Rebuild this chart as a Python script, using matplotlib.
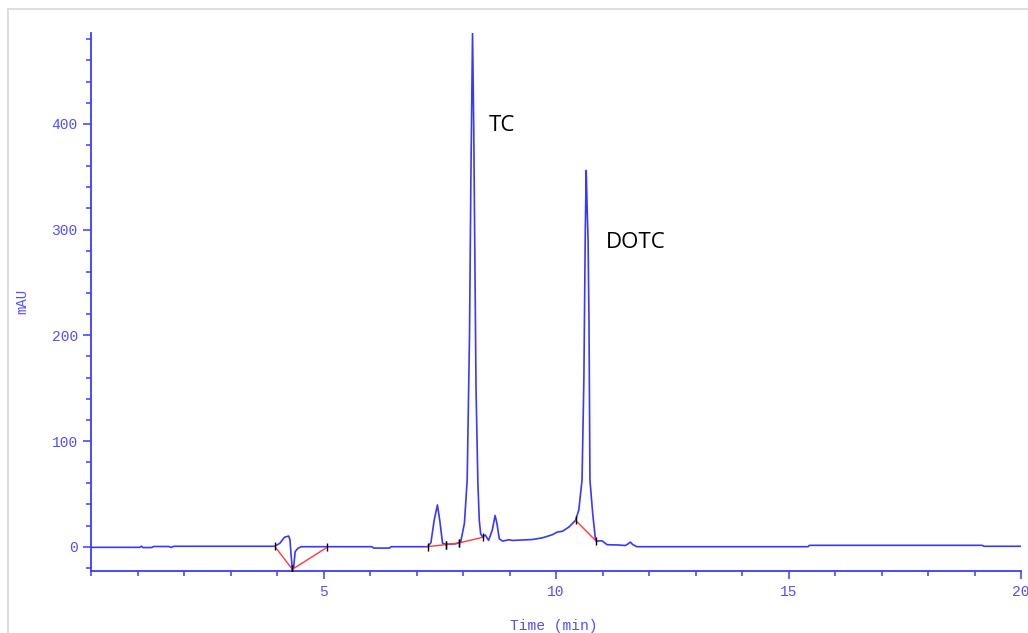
import matplotlib
matplotlib.use("Agg")
import matplotlib.pyplot as plt
from matplotlib.lines import Line2D
from matplotlib.ticker import MultipleLocator, FixedLocator

# Chromatogram trace: retention time (min) and detector response (mAU)
time_min = [0.00, 1.05, 1.08, 1.12, 1.30, 1.35, 1.68, 1.72, 1.78, 3.95,
            4.06, 4.16, 4.25, 4.28, 4.30, 4.33, 4.36, 4.39, 4.45, 4.52,
            6.04, 6.08, 6.42, 6.45, 7.24, 7.31, 7.38, 7.45, 7.50, 7.56,
            7.63, 7.85, 7.95, 8.03, 8.09, 8.14, 8.17, 8.205, 8.23, 8.25,
            8.28, 8.32, 8.35, 8.38, 8.42, 8.48, 8.55, 8.63, 8.69, 8.73,
            8.78, 8.85, 8.99, 9.06, 9.49, 9.71, 9.92, 10.03, 10.14, 10.28,
            10.42, 10.49, 10.56, 10.60, 10.63, 10.65, 10.67, 10.69, 10.71, 10.73,
            10.79, 10.85, 10.87, 10.92, 10.99, 11.10, 11.35, 11.49, 11.56, 11.60,
            11.65, 11.74, 15.42, 15.45, 19.17, 19.20, 20.00]
signal_mau = [-0.6, -0.6, 0.5, -0.8, -0.8, 0.2, 0.2, -0.8, 0.4, 0.4,
              3.2, 8.9, 10.1, 6.3, -6.3, -21.4, -18.9, -4.7, -1.5, 0.0,
              0.0, -1.3, -1.3, 0.0, 0.0, 3.8, 25.0, 39.5, 25.0, 3.2,
              2.2, 2.8, 4.5, 22.0, 63.0, 200.0, 350.0, 486.0, 400.0, 300.0,
              150.0, 60.0, 25.0, 12.0, 9.5, 11.0, 6.0, 15.8, 29.5, 22.0,
              7.6, 5.3, 6.6, 5.9, 6.8, 8.4, 11.3, 13.9, 14.6, 18.7,
              25.0, 34.7, 63.0, 160.0, 300.0, 356.0, 320.0, 290.0, 210.0, 63.0,
              31.0, 6.3, 5.0, 5.5, 5.6, 1.9, 1.6, 1.1, 3.0, 4.4,
              2.0, 0.0, 0.0, 1.3, 1.3, 0.4, 0.4]

# Integration baselines (start/end time and response of each segment)
base_t = [[3.95, 4.33], [4.33, 5.08], [7.24, 7.63], [7.63, 7.92], [7.92, 8.42], [10.42, 10.87]]
base_y = [[0.4, -21.4], [-21.4, -0.5], [0.0, 2.0], [2.0, 3.6], [3.6, 8.9], [25.0, 5.0]]

# Peak labels
peak_names = ["TC", "DOTC"]
peak_label_t = [8.55, 11.07]
peak_label_y = [393.0, 283.0]

x_major = [5, 10, 15, 20]
x_tick_labels = ["5", "10", "15", "20"]
y_major = [0, 100, 200, 300, 400]

AXIS_BLUE = "#3c3cff"
TEXT_BLUE = "#5050ff"
TRACE_BLUE = "#3838ff"

W, H = 1028, 633
fig = plt.figure(figsize=(W / 100, H / 100), dpi=100)
fig.patch.set_facecolor("white")

# light frame around the plot window
fig.add_artist(Line2D([8 / W, 1.0], [1 - 8.5 / H, 1 - 8.5 / H], color="#d8d8d8", lw=1.2))
fig.add_artist(Line2D([8 / W, 8 / W], [0.0, 1 - 8.5 / H], color="#d8d8d8", lw=1.2))

left, right, top, bottom = 91, 1021, 33, 570.7
ax = fig.add_axes([left / W, 1 - bottom / H, (right - left) / W, (bottom - top) / H])

ax.plot(time_min, signal_mau, color=TRACE_BLUE, lw=1.2, zorder=3)

for tt, yy in zip(base_t, base_y):
    ax.plot(tt, yy, color="#ff3a3a", lw=1.0, zorder=4)
    ax.plot(tt, yy, linestyle="none", marker="|", markersize=6,
            markeredgewidth=1.0, color="black", zorder=5)

for name, tx, ty in zip(peak_names, peak_label_t, peak_label_y):
    ax.text(tx, ty, name, fontsize=16, family=["Open Sans", "DejaVu Sans"],
            color="black", ha="left", va="baseline")

ax.set_xlim(0, 20)
ax.set_ylim(-22.7, 486)

for side in ("top", "right"):
    ax.spines[side].set_visible(False)
for side in ("left", "bottom"):
    ax.spines[side].set_color(AXIS_BLUE)
    ax.spines[side].set_linewidth(1.3)

ax.xaxis.set_major_locator(FixedLocator(x_major))
ax.set_xticklabels(x_tick_labels)
ax.xaxis.set_minor_locator(MultipleLocator(1))
ax.yaxis.set_major_locator(FixedLocator(y_major))
ax.yaxis.set_minor_locator(MultipleLocator(20))

mono = ["Liberation Mono", "DejaVu Sans Mono"]
ax.tick_params(axis="both", which="major", direction="out", length=5.5, width=1.1,
               color=AXIS_BLUE, labelcolor=TEXT_BLUE, labelsize=10.5)
ax.tick_params(axis="both", which="minor", direction="out", length=3.6, width=1.1,
               color=AXIS_BLUE)
ax.tick_params(axis="x", which="major", pad=5)
ax.tick_params(axis="y", which="major", pad=4)
for lab in ax.get_xticklabels() + ax.get_yticklabels():
    lab.set_family(mono)

ax.set_xlabel("Time (min)", fontsize=10.5, family=mono, color=TEXT_BLUE)
ax.set_ylabel("mAU", fontsize=10, family=mono, color=TEXT_BLUE)
ax.xaxis.set_label_coords(0.498, (bottom - 619) / (bottom - top))
ax.yaxis.set_label_coords((29 - left) / (right - left), 0.5)

fig.savefig("out.png", dpi=100)
